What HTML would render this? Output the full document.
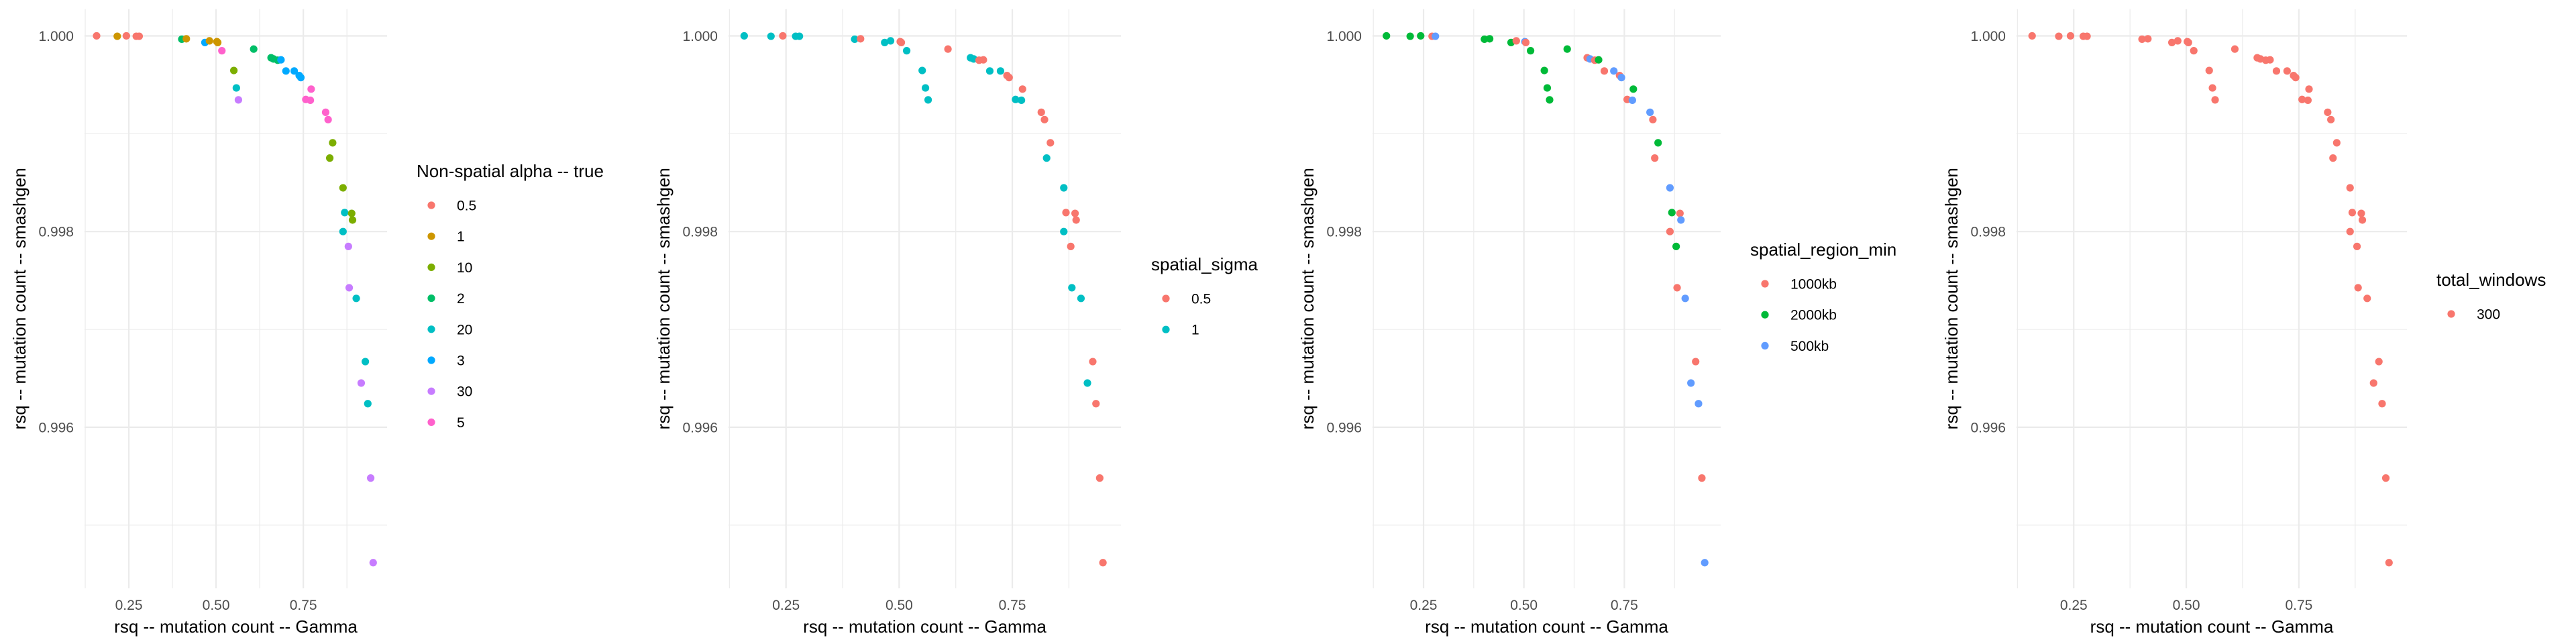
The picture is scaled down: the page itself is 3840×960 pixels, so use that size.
<!DOCTYPE html>
<html><head><meta charset="utf-8">
<style>
html,body{margin:0;padding:0;background:#fff;}
svg{display:block;font-family:"Liberation Sans",Arial,sans-serif;}
</style></head>
<body>
<svg id="chart" width="3840" height="960" viewBox="0 0 3840 960"></svg>
<script>
const xVals=[0.1576,0.2168,0.2429,0.2713,0.2796,0.4017,0.4147,0.4680,0.4810,0.5024,0.5047,0.5166,0.5509,0.5581,0.5640,0.6078,0.6576,0.6647,0.6765,0.6860,0.7002,0.7239,0.7382,0.7429,0.7725,0.7571,0.7701,0.8140,0.8211,0.8341,0.8258,0.8637,0.8685,0.8886,0.8910,0.8637,0.8791,0.8815,0.9017,0.9277,0.9159,0.9348,0.9431,0.9502];
const yVals=[1.0000,0.999996,1.0000,0.999996,0.999996,0.999966,0.99997,0.999932,0.999949,0.999941,0.999932,0.999848,0.999646,0.999468,0.999346,0.999865,0.999776,0.999764,0.999751,0.999755,0.999641,0.999641,0.999595,0.999574,0.999456,0.99935,0.999342,0.999219,0.999144,0.998907,0.998751,0.998447,0.998194,0.998186,0.998118,0.998,0.997848,0.997426,0.997317,0.996671,0.996452,0.996241,0.995481,0.994616];
const alphaVals=['0.5','1','0.5','0.5','0.5','2','1','3','1','1','1','5','10','20','30','2','2','2','2','3','3','3','3','3','5','5','5','5','5','10','10','10','20','10','10','20','30','30','20','20','30','20','30','30'];
const sigmaVals=['1','1','0.5','1','1','1','0.5','1','1','0.5','0.5','1','1','1','1','0.5','1','1','0.5','0.5','1','1','0.5','0.5','0.5','1','1','0.5','0.5','0.5','1','1','0.5','0.5','0.5','1','0.5','1','1','0.5','1','0.5','0.5','0.5'];
const regionVals=['2000kb','2000kb','2000kb','1000kb','500kb','2000kb','2000kb','2000kb','1000kb','500kb','1000kb','2000kb','2000kb','2000kb','2000kb','2000kb','1000kb','500kb','1000kb','2000kb','1000kb','500kb','1000kb','500kb','2000kb','1000kb','500kb','500kb','1000kb','2000kb','1000kb','500kb','2000kb','1000kb','500kb','1000kb','2000kb','1000kb','500kb','1000kb','500kb','500kb','1000kb','500kb'];
const windowVals=new Array(xVals.length).fill('300');
const xTicks=[0.25,0.50,0.75];
const xTickLabels=['0.25','0.50','0.75'];
const yTicks=[1.000,0.998,0.996];
const yTickLabels=['1.000','0.998','0.996'];
const alphaLevels=['0.5','1','10','2','20','3','30','5'];
const sigmaLevels=['0.5','1'];
const regionLevels=['1000kb','2000kb','500kb'];
const windowLevels=['300'];

const NS='http://www.w3.org/2000/svg';
const svg=document.getElementById('chart');
function el(tag,attrs,parent){const e=document.createElementNS(NS,tag);for(const k in attrs)e.setAttribute(k,attrs[k]);(parent||svg).appendChild(e);return e;}
const X0=0.123,X1=0.990,Y0=0.994354,Y1=1.000274;
const TOP=13.5,BOT=877,LEFT=126;
const panels=[
 {off:0,right:577,title:'Non-spatial alpha -- true',tx:621,ty:255,levels:alphaLevels,vals:alphaVals,cols:['#F8766D','#CD9600','#7CAE00','#00BE67','#00BFC4','#00A9FF','#C77CFF','#FF61CC'],name:'alpha'},
 {off:960,right:711,title:'spatial_sigma',tx:756,ty:394,levels:sigmaLevels,vals:sigmaVals,cols:['#F8766D','#00BFC4'],name:'sigma'},
 {off:1920,right:645,title:'spatial_region_min',tx:689,ty:372,levels:regionLevels,vals:regionVals,cols:['#F8766D','#00BA38','#619CFF'],name:'region'},
 {off:2880,right:708,title:'total_windows',tx:752,ty:417,levels:windowLevels,vals:windowVals,cols:['#F8766D'],name:'windows'}
];
panels.forEach((p,pi)=>{
 const g=el('g',{transform:'translate('+p.off+',0)'});
 
 
 const sx=v=>LEFT+(v-X0)/(X1-X0)*(p.right-LEFT);
 const sy=v=>BOT-(v-Y0)/(Y1-Y0)*(BOT-TOP);
 // minor grid
 [0.125,0.375,0.625,0.875].forEach(v=>{if(v>=X0-0.01&&v<=X1)el('line',{x1:sx(Math.max(v,X0)),x2:sx(Math.max(v,X0)),y1:TOP,y2:BOT,stroke:'#ebebeb','stroke-width':1.2},g);});
 [0.999,0.997,0.995].forEach(v=>el('line',{x1:LEFT,x2:p.right,y1:sy(v),y2:sy(v),stroke:'#ebebeb','stroke-width':1.2},g));
 xTicks.forEach((v,i)=>{
  const l=el('line',{x1:sx(v),x2:sx(v),y1:TOP,y2:BOT,stroke:'#ebebeb','stroke-width':2.2},g);
  
  
  const t=el('text',{x:sx(v),y:909,'text-anchor':'middle','font-size':21,fill:'#4d4d4d'},g);
  
  
  t.textContent=xTickLabels[i];
 });
 yTicks.forEach((v,i)=>{
  const l=el('line',{x1:LEFT,x2:p.right,y1:sy(v),y2:sy(v),stroke:'#ebebeb','stroke-width':2.2},g);
  
  
  const t=el('text',{x:110,y:sy(v)+7.5,'text-anchor':'end','font-size':21,fill:'#4d4d4d'},g);
  
  
  t.textContent=yTickLabels[i];
 });
 const xt=el('text',{x:(LEFT+p.right)/2,y:943,'text-anchor':'middle','font-size':26,fill:'#000'},g);
 
 
 xt.textContent='rsq -- mutation count -- Gamma';
 const yt=el('text',{x:0,y:0,transform:'translate(38,'+((TOP+BOT)/2)+') rotate(-90)','text-anchor':'middle','font-size':26,fill:'#000'},g);
 
 
 yt.textContent='rsq -- mutation count -- smashgen';
 xVals.forEach((xv,i)=>{
  const c=el('circle',{cx:sx(xv),cy:sy(yVals[i]),r:5.6,fill:p.cols[p.levels.indexOf(p.vals[i])]},g);
  
  
 });
 const lt=el('text',{x:p.tx,y:p.ty+9,'font-size':26,fill:'#000'},g);
 
 
 lt.textContent=p.title;
 p.levels.forEach((lv,i)=>{
  const cy=p.ty+51+i*46.2;
  const c=el('circle',{cx:p.tx+22,cy:cy,r:5.6,fill:p.cols[i]},g);
  
  
  const t=el('text',{x:p.tx+60,y:cy+7.5,'font-size':21,fill:'#000'},g);
  
  
  t.textContent=lv;
 });
});
</script>
</body></html>
